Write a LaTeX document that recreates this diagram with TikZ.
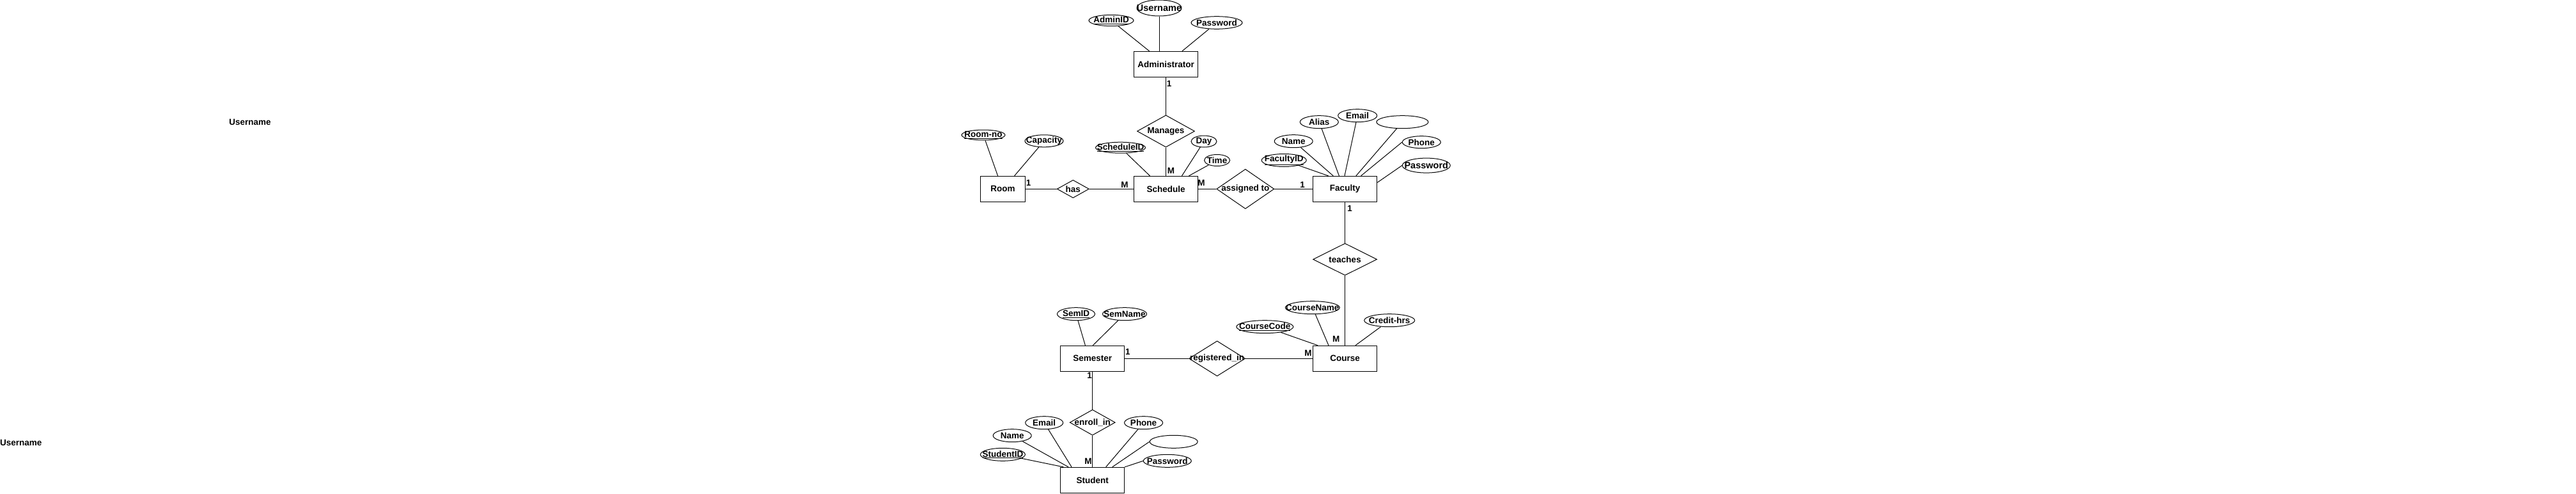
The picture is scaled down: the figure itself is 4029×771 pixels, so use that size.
\documentclass[tikz,border=0pt]{standalone}
\usepackage{fontspec}
\setmainfont{Liberation Sans}
\usetikzlibrary{shapes.geometric}
\newcommand\erfont{\fontsize{13.5}{16}\selectfont\bfseries}
\newcommand\erbig{\fontsize{14.5}{17}\selectfont\bfseries}
\tikzset{
  ent/.style={draw, rectangle, minimum width=100pt, minimum height=40pt, inner sep=0pt, font=\erfont, line width=1pt},
  rel/.style={draw, diamond, inner sep=0pt, line width=1pt},
  attr/.style={draw, ellipse, inner sep=0pt, line width=1pt},
  card/.style={font=\erfont, inner sep=0pt},
  conn/.style={line width=1pt},
  every label/.style={font=\erfont, inner sep=0pt}
}
\begin{document}
\begin{tikzpicture}[x=1pt, y=-1pt]
\useasboundingbox[fill=white] (0,0) rectangle (4029,771);

% stray labels
\node[card] (u1) at (391,191) {Username};
\node[card, anchor=west] (u2) at (0,691.7) {Username};

% entities
\node[ent] (adm) at (1823.5,100.3) {Administrator};
\node[ent, minimum width=70pt] (room) at (1568.6,295.3) {Room};
\node[ent] (sch) at (1823.5,295.3) {Schedule};
\node[ent] (fac) at (2103.6,295.3) {Faculty};
\node[ent] (crs) at (2103.6,560.3) {Course};
\node[ent] (sem) at (1708.7,560.3) {Semester};
\node[ent] (stu) at (1708.7,750.3) {Student};

% relationships
\node[rel, minimum width=90pt, minimum height=50pt, label=center:{Manages}] (man) at (1823.5,205) {};
\node[rel, minimum width=50pt, minimum height=28pt, label=center:{has}] (has) at (1678.3,295.3) {};
\node[rel, minimum width=90pt, minimum height=62pt, label=center:{assigned to}] (asg) at (1947.8,295.3) {};
\node[rel, minimum width=100pt, minimum height=50pt, label=center:{teaches}] (tea) at (2103.6,405.3) {};
\node[rel, minimum width=88pt, minimum height=55pt, label=center:{registered\_in}] (reg) at (1903.6,560.3) {};
\node[rel, minimum width=71pt, minimum height=40pt, label=center:{enroll\_in}] (enr) at (1708.7,660.2) {};

% attributes
\node[attr, minimum width=70pt, minimum height=25pt, label={[font=\erbig]center:{Username}}] (un) at (1813,12.5) {};
\node[attr, minimum width=70pt, minimum height=17.4pt, label=center:{\underline{AdminID}}] (aid) at (1738,32) {};
\node[attr, minimum width=80pt, minimum height=19.6pt, label=center:{Password}] (apw) at (1903,35.5) {};
\node[attr, minimum width=68pt, minimum height=16pt, label=center:{\underline{Room-no}}] (rno) at (1538,211) {};
\node[attr, minimum width=60pt, minimum height=19pt, label=center:{Capacity}] (cap) at (1633,220.3) {};
\node[attr, minimum width=78pt, minimum height=17pt, label=center:{\underline{ScheduleID}}] (sid) at (1752.5,230.7) {};
\node[attr, minimum width=40pt, minimum height=18pt, label=center:{Day}] (day) at (1883,221) {};
\node[attr, minimum width=40pt, minimum height=18pt, label=center:{Time}] (time) at (1903.6,250.5) {};
\node[attr, minimum width=70pt, minimum height=20pt, label=center:{\underline{FacultyID}}] (fid) at (2008.2,250.5) {};
\node[attr, minimum width=60pt, minimum height=20pt, label=center:{Name}] (fname) at (2023.2,220.7) {};
\node[attr, minimum width=60pt, minimum height=20pt, label=center:{Alias}] (alias) at (2063.3,190.7) {};
\node[attr, minimum width=61pt, minimum height=20pt, label=center:{Email}] (femail) at (2123.2,180.7) {};
\node[attr, minimum width=81pt, minimum height=20pt] (fblank) at (2193.4,190.7) {};
\node[attr, minimum width=60pt, minimum height=19pt, label=center:{Phone}] (fphone) at (2223.3,222.2) {};
\node[attr, minimum width=75pt, minimum height=23pt, label={[font=\erbig]center:{Password}}] (fpw) at (2230.8,258.6) {};
\node[attr, minimum width=85pt, minimum height=20pt, label=center:{CourseName}] (cname) at (2052.8,480.7) {};
\node[attr, minimum width=89pt, minimum height=20pt, label=center:{\underline{CourseCode}}] (ccode) at (1978.3,510.7) {};
\node[attr, minimum width=79pt, minimum height=20pt, label=center:{Credit-hrs}] (chrs) at (2173.2,500.7) {};
\node[attr, minimum width=59pt, minimum height=20pt, label=center:{\underline{SemID}}] (semid) at (1683,490.7) {};
\node[attr, minimum width=69pt, minimum height=20pt, label=center:{SemName}] (semname) at (1759,490.7) {};
\node[attr, minimum width=70pt, minimum height=20pt, label=center:{\underline{StudentID}}] (sstid) at (1568.4,710.3) {};
\node[attr, minimum width=60pt, minimum height=20pt, label=center:{Name}] (sname) at (1583.2,680.7) {};
\node[attr, minimum width=59pt, minimum height=20pt, label=center:{Email}] (semail) at (1633.2,660.7) {};
\node[attr, minimum width=60pt, minimum height=20pt, label=center:{Phone}] (sphone) at (1788.6,660.7) {};
\node[attr, minimum width=75pt, minimum height=20pt] (sblank) at (1835.7,690.3) {};
\node[attr, minimum width=75pt, minimum height=20pt, label=center:{Password}] (spw) at (1825.8,720.3) {};

% relationship connectors
\draw[conn] (adm) -- (man);
\draw[conn] (man) -- (sch);
\draw[conn] (room) -- (has);
\draw[conn] (has) -- (sch);
\draw[conn] (sch) -- (asg);
\draw[conn] (asg) -- (fac);
\draw[conn] (fac) -- (tea);
\draw[conn] (tea) -- (crs);
\draw[conn] (sem) -- (reg);
\draw[conn] (reg) -- (crs);
\draw[conn] (sem) -- (enr);
\draw[conn] (enr) -- (stu);

% attribute connectors
\draw[conn] (aid) -- ([xshift=-26pt]adm.north);
\draw[conn] (un) -- ([xshift=-10.5pt]adm.north);
\draw[conn] (apw) -- ([xshift=25.5pt]adm.north);
\draw[conn] (rno) -- ([xshift=-8pt]room.north);
\draw[conn] (cap) -- ([xshift=18pt]room.north);
\draw[conn] (sid) -- ([xshift=-25pt]sch.north);
\draw[conn] (day) -- ([xshift=25pt]sch.north);
\draw[conn] (time) -- ([xshift=36pt]sch.north);
\draw[conn] (fid) -- ([xshift=-26pt]fac.north);
\draw[conn] (fname) -- ([xshift=-18.4pt]fac.north);
\draw[conn] (alias) -- ([xshift=-9.2pt]fac.north);
\draw[conn] (femail) -- ([xshift=-0.6pt]fac.north);
\draw[conn] (fblank) -- ([xshift=17.3pt]fac.north);
\draw[conn] (fphone.west) -- ([xshift=25pt]fac.north);
\draw[conn] (fpw.west) -- ([yshift=10pt]fac.east);
\draw[conn] (cname) -- ([xshift=-25.6pt]crs.north);
\draw[conn] (ccode) -- ([xshift=-42.4pt]crs.north);
\draw[conn] (chrs) -- ([xshift=16.3pt]crs.north);
\draw[conn] (semid) -- ([xshift=-11.3pt]sem.north);
\draw[conn] (semname) -- ([xshift=0.5pt]sem.north);
\draw[conn] (sstid) -- ([xshift=-45.4pt]stu.north);
\draw[conn] (sname) -- ([xshift=-37.7pt]stu.north);
\draw[conn] (semail) -- ([xshift=-32.7pt]stu.north);
\draw[conn] (sphone) -- ([xshift=21pt]stu.north);
\draw[conn] (sblank.west) -- ([xshift=31pt]stu.north);
\draw[conn] (spw.west) -- (stu.north east);

% cardinalities
\node[card] (c1) at (1828.5,131) {1};
\node[card] (c2) at (1831.6,266.7) {M};
\node[card] (c3) at (1608.7,286) {1};
\node[card] (c4) at (1759,289) {M};
\node[card] (c5) at (1879,286) {M};
\node[card] (c6) at (2037,289.3) {1};
\node[card] (c7) at (2111,326) {1};
\node[card] (c8) at (2089.8,530) {M};
\node[card] (c9) at (2046,551.7) {M};
\node[card] (c10) at (1763.8,550) {1};
\node[card] (c11) at (1704,586.7) {1};
\node[card] (c12) at (1702,721) {M};
\end{tikzpicture}
\end{document}
